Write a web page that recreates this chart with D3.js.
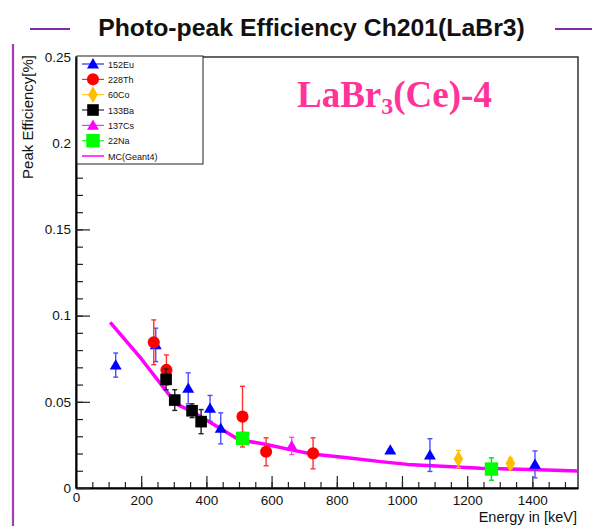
<!DOCTYPE html>
<html>
<head>
<meta charset="utf-8">
<script src="https://cdn.jsdelivr.net/npm/d3@7"></script>
<style>
  body { margin: 0; background: #fff; }
  svg { display: block; font-family: "Liberation Sans", Arial, sans-serif; }
</style>
</head>
<body>
<svg id="chart"></svg>
<script>
// measured values (energy keV, efficiency, error)
const eu152E = [121.8, 244.7, 344.3, 411.1, 444.0, 964.1, 1085.8, 1408.0];
const eu152Eff = [0.0713, 0.083, 0.0578, 0.0462, 0.0346, 0.022, 0.0191, 0.0137];
const eu152Err = [0.007, 0.0097, 0.009, 0.0075, 0.009, 0.0008, 0.0095, 0.0078];

const th228E = [238.6, 277.4, 510.8, 583.2, 727.3];
const th228Eff = [0.0845, 0.0685, 0.0414, 0.021, 0.0201];
const th228Err = [0.013, 0.0087, 0.0176, 0.0081, 0.009];

const co60E = [1173.2, 1332.5];
const co60Eff = [0.0168, 0.0143];
const co60Err = [0.005, 0.003];

const ba133E = [276.4, 302.9, 356.0, 383.8];
const ba133Eff = [0.063, 0.051, 0.0448, 0.0385];
const ba133Err = [0.006, 0.006, 0.004, 0.007];

const cs137E = [661.7];
const cs137Eff = [0.0244];
const cs137Err = [0.005];

const na22E = [511.0, 1274.5];
const na22Eff = [0.0288, 0.011];
const na22Err = [0.0035, 0.0065];

const mcE = [105, 200, 280, 310, 360, 500, 577, 654, 723, 833, 935, 1017, 1139, 1241, 1395, 1545];
const mcEff = [0.0961, 0.075, 0.0555, 0.0485, 0.044, 0.028, 0.0255, 0.0224, 0.0197, 0.0176, 0.0153, 0.0137, 0.0124, 0.0114, 0.0108, 0.0099];

const xTicks = [0, 200, 400, 600, 800, 1000, 1200, 1400];
const yTicks = [0, 0.05, 0.1, 0.15, 0.2, 0.25];

const chartSize = { width: 592, height: 526 };
const frame = { left: 76, right: 578, top: 57, bottom: 488 };

const svg = d3.select("#chart")
  .attr("width", chartSize.width)
  .attr("height", chartSize.height);

const x = d3.scaleLinear().domain([0, 1540]).range([frame.left, frame.right]);
const y = d3.scaleLinear().domain([0, 0.25]).range([frame.bottom, frame.top]);

// decorations: purple rules
svg.append("line").attr("x1", 13).attr("x2", 13).attr("y1", 44).attr("y2", 526)
  .attr("stroke", "#a040b0").attr("stroke-width", 2.2);
svg.append("line").attr("x1", 30).attr("x2", 70).attr("y1", 29).attr("y2", 29)
  .attr("stroke", "#7a2fa8").attr("stroke-width", 2.2);
svg.append("line").attr("x1", 555).attr("x2", 592).attr("y1", 29).attr("y2", 29)
  .attr("stroke", "#7a2fa8").attr("stroke-width", 2.2);

// title, fitted to its width in the reference
const title = svg.append("text")
  .attr("x", 311.5).attr("y", 36)
  .attr("text-anchor", "middle")
  .attr("font-weight", "bold")
  .attr("font-size", 20)
  .attr("fill", "#111")
  .text("Photo-peak Efficiency Ch201(LaBr3)");
const tw = title.node().getComputedTextLength();
title.attr("font-size", 20 * 427 / tw);

// frame
svg.append("rect")
  .attr("x", frame.left).attr("y", frame.top)
  .attr("width", frame.right - frame.left).attr("height", frame.bottom - frame.top)
  .attr("fill", "none").attr("stroke", "#333").attr("stroke-width", 1.5);

// axes (ticks point inward like ROOT)
const minorX = d3.range(0, 1541, 50);
const minorY = d3.range(0, 0.2501, 0.01);

svg.append("g")
  .attr("transform", `translate(0,${frame.bottom})`)
  .call(d3.axisBottom(x).tickValues(minorX).tickSize(-6).tickFormat(""))
  .call(g => g.select(".domain").remove());
svg.append("g")
  .attr("class", "x-axis")
  .attr("transform", `translate(0,${frame.bottom})`)
  .call(d3.axisBottom(x).tickValues(xTicks).tickSize(-12).tickPadding(7).tickSizeOuter(0)
    .tickFormat(d3.format("d")))
  .call(g => g.select(".domain").attr("stroke-width", 2));

svg.append("g")
  .attr("transform", `translate(${frame.left},0)`)
  .call(d3.axisLeft(y).tickValues(minorY).tickSize(-7).tickFormat(""))
  .call(g => g.select(".domain").remove());
svg.append("g")
  .attr("class", "y-axis")
  .attr("transform", `translate(${frame.left},0)`)
  .call(d3.axisLeft(y).tickValues(yTicks).tickSize(-14).tickPadding(5).tickSizeOuter(0)
    .tickFormat(d3.format("~g")))
  .call(g => g.select(".domain").attr("stroke-width", 2));

svg.selectAll(".tick line").attr("stroke", "#222").attr("stroke-width", 1.2);
svg.selectAll(".x-axis text, .y-axis text")
  .attr("font-size", 13.5)
  .attr("font-family", "Liberation Sans, Arial, sans-serif")
  .attr("fill", "#111");
svg.selectAll(".x-axis .tick").filter(d => d === 0).select("text").attr("dy", "0.55em");

// axis titles
svg.append("text")
  .attr("transform", "rotate(-90)")
  .attr("x", -55).attr("y", 33)
  .attr("text-anchor", "end")
  .attr("font-size", 15)
  .attr("fill", "#111")
  .text("Peak Efficiency[%]");
svg.append("text")
  .attr("x", 577).attr("y", 522)
  .attr("text-anchor", "end")
  .attr("font-size", 14.5)
  .attr("fill", "#111")
  .text("Energy in [keV]");

// MC line under the points
const line = d3.line().x(d => x(d[0])).y(d => y(d[1]));
svg.append("clipPath").attr("id", "plotclip")
  .append("rect").attr("x", frame.left).attr("y", frame.top)
  .attr("width", frame.right - frame.left).attr("height", frame.bottom - frame.top);
svg.append("path")
  .datum(d3.zip(mcE, mcEff))
  .attr("clip-path", "url(#plotclip)")
  .attr("d", line)
  .attr("fill", "none")
  .attr("stroke", "#ff00ff")
  .attr("stroke-width", 3.5)
  .attr("stroke-linejoin", "round");

const series = [
  { name: "152Eu", E: eu152E, eff: eu152Eff, err: eu152Err, color: "#0000ff", bar: "#4d4dff", type: d3.symbolTriangle, size: 62 },
  { name: "228Th", E: th228E, eff: th228Eff, err: th228Err, color: "#ff0000", bar: "#ff3030", type: d3.symbolCircle, size: 115 },
  { name: "60Co", E: co60E, eff: co60Eff, err: co60Err, color: "#ffbf00", bar: "#ffbf00", type: d3.symbolDiamond, size: 80 },
  { name: "133Ba", E: ba133E, eff: ba133Eff, err: ba133Err, color: "#000000", bar: "#222", type: d3.symbolSquare, size: 135 },
  { name: "137Cs", E: cs137E, eff: cs137Eff, err: cs137Err, color: "#ff00ff", bar: "#ff40ff", type: d3.symbolTriangle, size: 62 },
  { name: "22Na", E: na22E, eff: na22Eff, err: na22Err, color: "#00ff00", bar: "#00e000", type: d3.symbolSquare, size: 180 }
];

series.forEach(s => {
  const pts = s.E.map((e, i) => ({ e, v: s.eff[i], err: s.err[i] }));
  const g = svg.append("g").attr("class", "series");
  const bars = g.selectAll(".err").data(pts).enter().append("g")
    .attr("stroke", s.bar).attr("stroke-width", 1.4);
  bars.append("line")
    .attr("x1", d => x(d.e)).attr("x2", d => x(d.e))
    .attr("y1", d => y(d.v - d.err)).attr("y2", d => y(d.v + d.err));
  [d => y(d.v - d.err), d => y(d.v + d.err)].forEach(fy => {
    bars.append("line")
      .attr("x1", d => x(d.e) - 2.5).attr("x2", d => x(d.e) + 2.5)
      .attr("y1", fy).attr("y2", fy);
  });
  g.selectAll(".pt").data(pts).enter().append("path")
    .attr("transform", d => `translate(${x(d.e)},${y(d.v) + (s.type === d3.symbolTriangle ? 1 : 0)})`)
    .attr("d", d3.symbol().type(s.type).size(s.size))
    .attr("fill", s.color);
});

// legend
const lg = svg.append("g").attr("transform", "translate(77,56)");
lg.append("rect").attr("width", 126).attr("height", 108)
  .attr("fill", "#fff").attr("stroke", "#222").attr("stroke-width", 1);
const entries = series.map(s => ({ name: s.name, color: s.color, type: s.type, size: s.size }))
  .concat([{ name: "MC(Geant4)", color: "#ff00ff", type: null }]);
const ly = d3.scalePoint().domain(entries.map(d => d.name)).range([8, 100]);
const le = lg.selectAll(".entry").data(entries).enter().append("g")
  .attr("transform", d => `translate(0,${ly(d.name)})`);
le.append("line").attr("x1", 5).attr("x2", 27)
  .attr("stroke", d => d.color).attr("stroke-width", d => d.type ? 1 : 1.5);
le.filter(d => d.type).append("path")
  .attr("transform", d => `translate(16,${d.type === d3.symbolTriangle ? 1 : 0})`)
  .attr("d", d => d3.symbol().type(d.type).size(d.size)())
  .attr("fill", d => d.color);
le.append("text").attr("x", 31).attr("y", 3.5)
  .attr("font-size", 9).attr("fill", "#111")
  .text(d => d.name);

// detector label
const lab = svg.append("text")
  .attr("x", 297).attr("y", 107)
  .attr("font-family", "Liberation Serif, Times New Roman, serif")
  .attr("font-weight", "bold")
  .attr("font-size", 37)
  .attr("fill", "#ff3399");
lab.append("tspan").text("LaBr");
lab.append("tspan").attr("font-size", 24).attr("dy", 7).text("3");
lab.append("tspan").attr("dy", -7).text("(Ce)-4");
</script>
</body>
</html>
